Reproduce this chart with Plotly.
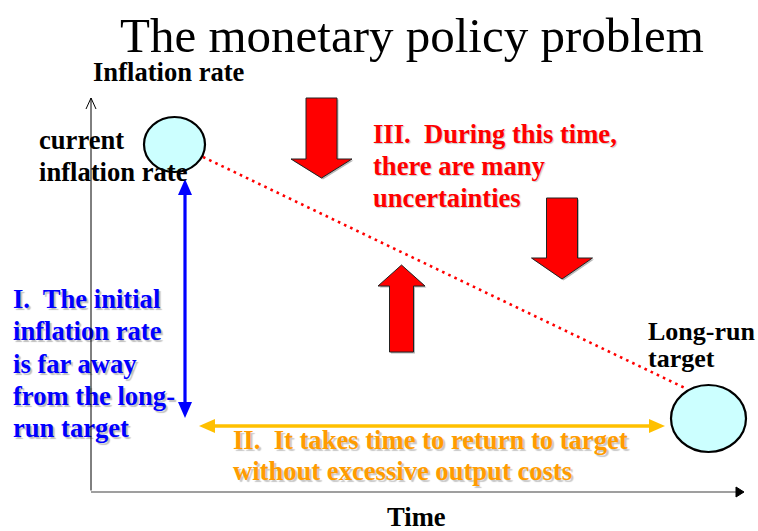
import plotly.graph_objects as go

W, H = 758, 531

# ---- data (diagram coordinates, window-pixel units) ----
title_text = "The monetary policy problem"
y_axis_title = "Inflation rate"
x_axis_title = "Time"

# two states: current inflation and long-run target
state_x = [174.5, 708.5]
state_y = [144.5, 418.5]
state_rx = [30.5, 37.5]
state_ry = [27.5, 33.5]

# dotted adjustment path between them
path_x = [203, 687]
path_y = [157, 389]

# axes
axis_origin = [91, 492]
y_axis_top = 98
x_axis_end = 744

# blue gap arrow (I) and orange time arrow (II)
gap_x = 185
gap_y = [179, 418]
time_y = 426
time_x = [199, 665]

# red uncertainty block arrows: center x, tail y, head-base y, tip y, shaft half, head half
block_cx = [321.5, 562.0, 401.5]
block_tail = [98, 198, 352]
block_base = [159, 258, 286]
block_tip = [178, 279, 265]
block_shaft = [15.5, 15.5, 12.0]
block_head = [30.5, 30.5, 23.5]

# text blocks (lines)
current_lines = ["current", "inflation rate"]
target_lines = ["Long-run", "target"]
text_I = ["I.&nbsp; The initial", "inflation rate", "is far away", "from the long-", "run target"]
text_II = ["II.&nbsp; It takes time to return to target", "without excessive output costs"]
text_III = ["III.&nbsp; During this time,", "there are many", "uncertainties"]

# ---- figure ----
fig = go.Figure()
fig.add_trace(go.Scatter(x=[0, W], y=[0, H], mode="markers", marker=dict(opacity=0),
                         hoverinfo="skip", showlegend=False))

shapes = []
annotations = []

SERIF = "Liberation Serif, Times New Roman, serif"
FS = 26.6

# x axis (gray) with filled head
shapes.append(dict(type="line", x0=axis_origin[0], y0=axis_origin[1], x1=x_axis_end - 6, y1=axis_origin[1],
                   line=dict(color="#7f7f7f", width=1.6)))
shapes.append(dict(type="path",
                   path=f"M{x_axis_end},{axis_origin[1]} L{x_axis_end-8},{axis_origin[1]-5} "
                        f"L{x_axis_end-8},{axis_origin[1]+5} Z",
                   fillcolor="black", line=dict(color="black", width=1)))
# y axis open head
shapes.append(dict(type="path",
                   path=f"M{axis_origin[0]-5},{y_axis_top+11} L{axis_origin[0]},{y_axis_top} "
                        f"L{axis_origin[0]+5},{y_axis_top+11}",
                   line=dict(color="black", width=1)))

# dotted path
shapes.append(dict(type="line", x0=path_x[0], y0=path_y[0], x1=path_x[1], y1=path_y[1],
                   line=dict(color="#ff0000", width=2.6, dash="2.6px,4.2px")))

# ellipses
for cx, cy, rx, ry in zip(state_x, state_y, state_rx, state_ry):
    shapes.append(dict(type="circle", x0=cx - rx, x1=cx + rx, y0=cy - ry, y1=cy + ry,
                       fillcolor="#ccffff", line=dict(color="black", width=2.2)))

# red block arrows (with soft shadow)
def block_path(cx, tail, base, tip, s, h, dx=0, dy=0):
    pts = [(cx - s, tail), (cx + s, tail), (cx + s, base), (cx + h, base), (cx, tip),
           (cx - h, base), (cx - s, base)]
    return "M" + " L".join(f"{x+dx},{y+dy}" for x, y in pts) + " Z"

for cx, t, b, tp, s, h in zip(block_cx, block_tail, block_base, block_tip, block_shaft, block_head):
    shapes.append(dict(type="path", path=block_path(cx, t, b, tp, s, h, 1.5, 1.5),
                       fillcolor="#b8b8b8", line=dict(width=0)))
    shapes.append(dict(type="path", path=block_path(cx, t, b, tp, s, h),
                       fillcolor="#ff0000", line=dict(color="#222222", width=1)))

# blue double arrow
shapes.append(dict(type="line", x0=gap_x, x1=gap_x, y0=gap_y[0] + 12, y1=gap_y[1] - 12,
                   line=dict(color="#0000ff", width=3.2)))
for tip, d in [(gap_y[0], 1), (gap_y[1], -1)]:
    shapes.append(dict(type="path",
                       path=f"M{gap_x},{tip} L{gap_x-7},{tip + d*16} L{gap_x+7},{tip + d*16} Z",
                       fillcolor="#0000ff", line=dict(width=0)))

# orange double arrow
shapes.append(dict(type="line", x0=time_x[0] + 12, x1=time_x[1] - 12, y0=time_y, y1=time_y,
                   line=dict(color="#ffc000", width=3.6)))
for tip, d in [(time_x[0], 1), (time_x[1], -1)]:
    shapes.append(dict(type="path",
                       path=f"M{tip},{time_y} L{tip + d*16},{time_y-7} L{tip + d*16},{time_y+7} Z",
                       fillcolor="#ffc000", line=dict(width=0)))

def add_lines(lines, x, y0, dy, color, shadow=None, size=FS):
    for i, t in enumerate(lines):
        font = dict(family=SERIF, size=size, color=color, weight="bold")
        if shadow:
            font["shadow"] = shadow
        annotations.append(dict(x=x, y=y0 + i * dy, xref="x", yref="y", text=t, showarrow=False,
                                xanchor="left", yanchor="middle", font=font, borderpad=0))

# title
annotations.append(dict(x=412, y=35, xref="x", yref="y", text=title_text, showarrow=False,
                        xanchor="center", yanchor="middle",
                        font=dict(family=SERIF, size=49, color="black")))
add_lines([y_axis_title], 92, 72, 0, "black")
annotations.append(dict(x=416, y=517, xref="x", yref="y", text=x_axis_title, showarrow=False,
                        xanchor="center", yanchor="middle",
                        font=dict(family=SERIF, size=FS, color="black", weight="bold")))
add_lines(current_lines, 38, 140, 32, "black")
add_lines(target_lines, 647, 331, 27, "black", size=26)
add_lines(text_III, 372, 134, 32, "#ff0000", shadow="1px 1px 1px #c8c8c8")
add_lines(text_I, 12, 299, 32.3, "#0000ff", shadow="2px 2px 1px #c0c0c0")
add_lines(text_II, 232, 440, 31, "#ff9c00", shadow="2px 2px 1px #c8c8c8")

# y axis line drawn on top of text (annotation arrow with no head)
annotations.append(dict(x=axis_origin[0], y=y_axis_top, ax=axis_origin[0], ay=axis_origin[1],
                        xref="x", yref="y", axref="x", ayref="y", text="", showarrow=True,
                        arrowhead=0, arrowwidth=1, arrowcolor="black", standoff=0, startstandoff=0))

fig.update_layout(
    width=W, height=H, margin=dict(l=0, r=0, t=0, b=0),
    paper_bgcolor="white", plot_bgcolor="white",
    xaxis=dict(range=[0, W], visible=False, fixedrange=True),
    yaxis=dict(range=[H, 0], visible=False, fixedrange=True),
    shapes=shapes, annotations=annotations, showlegend=False,
)

# remove the page's default 8px body margin and any scrollbars
fig.write_html("out.html", config={"displayModeBar": False, "staticPlot": True},
               post_script="document.body.style.margin='0';document.body.style.overflow='hidden';")
